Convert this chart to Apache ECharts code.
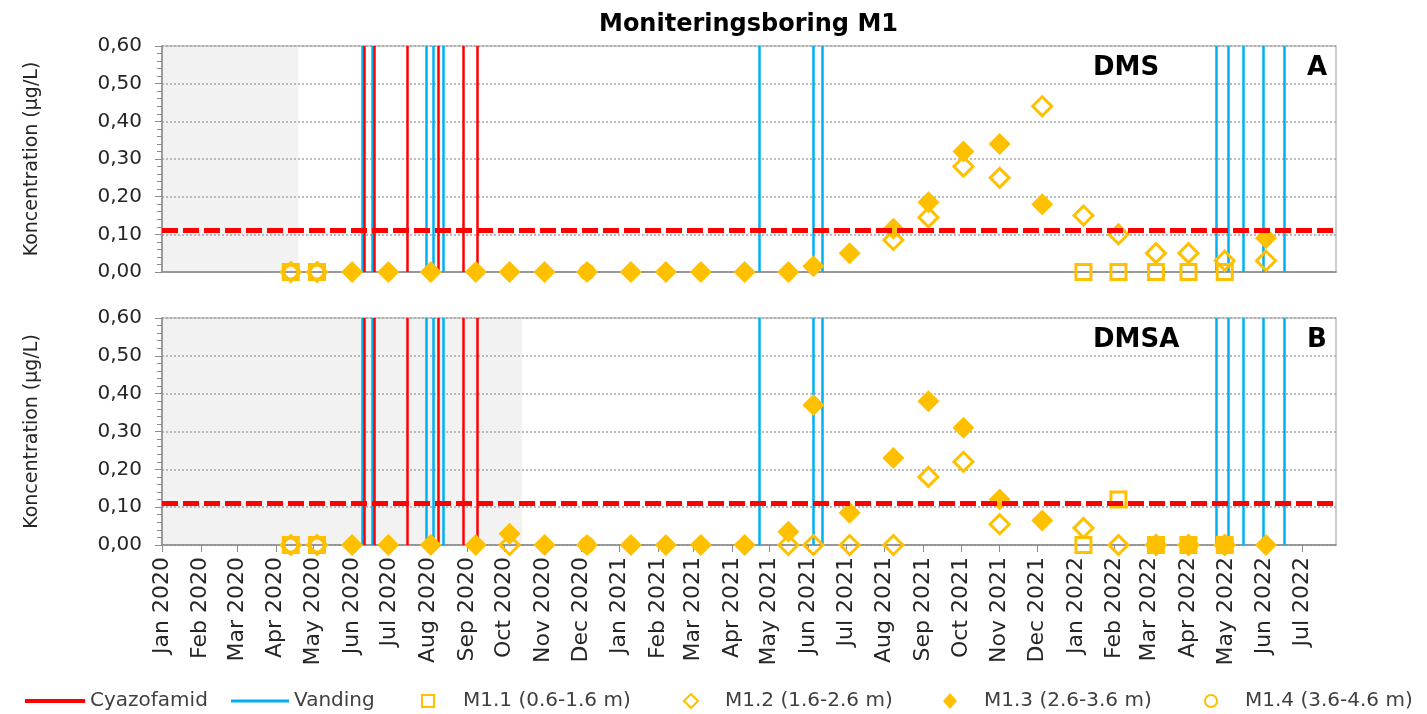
<!DOCTYPE html>
<html>
<head>
<meta charset="utf-8">
<title>Moniteringsboring M1</title>
<script src="https://cdn.jsdelivr.net/npm/echarts@6/dist/echarts.min.js"></script>
<style>
  html, body { margin: 0; padding: 0; background: #fff; }
  #chart { width: 1427px; height: 714px; }
</style>
</head>
<body>
<div id="chart"></div>
<script>
var n = null;

// prøvetagningsdatoer
var sampleDates = ['2020-04-13', '2020-05-04', '2020-06-01', '2020-06-30', '2020-08-03', '2020-09-08',
  '2020-10-05', '2020-11-02', '2020-12-06', '2021-01-10', '2021-02-07', '2021-03-07', '2021-04-11',
  '2021-05-16', '2021-06-05', '2021-07-04', '2021-08-08', '2021-09-05', '2021-10-03', '2021-11-01',
  '2021-12-05', '2022-01-07', '2022-02-04', '2022-03-06', '2022-04-01', '2022-04-30', '2022-06-02'];

// DMS (panel A)
var dmsM11 = [0, 0, n, n, n, n, n, n, n, n, n, n, n, n, n, n, n, n, n, n, n, 0, 0, 0, 0, 0, n];
var dmsM12 = [0, 0, n, n, n, n, n, n, n, n, n, n, n, n, n, n, 0.085, 0.145, 0.28, 0.25, 0.44, 0.15, 0.10, 0.05, 0.05, 0.03, 0.03];
var dmsM13 = [n, n, 0, 0, 0, 0, 0, 0, 0, 0, 0, 0, 0, 0, 0.015, 0.05, 0.115, 0.185, 0.32, 0.34, 0.18, n, n, n, n, n, 0.09];
var dmsM14 = [0, 0, n, n, n, n, n, n, 0, n, n, n, n, n, n, n, n, n, n, n, n, n, n, n, n, n, n];

// DMSA (panel B)
var dmsaM11 = [0, 0, n, n, n, n, n, n, n, n, n, n, n, n, n, n, n, n, n, n, n, 0, 0.12, 0, 0, 0, n];
var dmsaM12 = [0, 0, n, n, n, n, 0, n, n, n, n, n, n, 0, 0, 0, 0, 0.18, 0.22, 0.055, n, 0.045, 0, 0, 0, 0, n];
var dmsaM13 = [n, n, 0, 0, 0, 0, 0.03, 0, 0, 0, 0, 0, 0, 0.035, 0.37, 0.085, 0.23, 0.38, 0.31, 0.12, 0.065, n, n, 0, 0, 0, 0];
var dmsaM14 = [0, 0, n, n, n, n, n, n, 0, n, n, n, n, n, n, n, n, n, n, n, n, n, n, n, n, n, n];

// sprøjtninger og vandinger
var cyazofamidDates = ['2020-06-11', '2020-06-19', '2020-07-15', '2020-08-09', '2020-08-29', '2020-09-09'];
var vandingDates = ['2020-06-09', '2020-06-17', '2020-07-30', '2020-08-05', '2020-08-13',
  '2021-04-23', '2021-06-05', '2021-06-12',
  '2022-04-23', '2022-05-03', '2022-05-15', '2022-05-31', '2022-06-17'];

var graensevaerdi = 0.11;
var shadeDMS = ['2020-01-01', '2020-04-19'];
var shadeDMSA = ['2020-01-01', '2020-10-15'];

var axisStart = '2020-01-01';
var axisEnd = '2022-07-28';
var monthTicks = ['2020-01-01', '2020-02-01', '2020-03-01', '2020-04-01', '2020-05-01', '2020-06-01',
  '2020-07-01', '2020-08-01', '2020-09-01', '2020-10-01', '2020-11-01', '2020-12-01',
  '2021-01-01', '2021-02-01', '2021-03-01', '2021-04-01', '2021-05-01', '2021-06-01',
  '2021-07-01', '2021-08-01', '2021-09-01', '2021-10-01', '2021-11-01', '2021-12-01',
  '2022-01-01', '2022-02-01', '2022-03-01', '2022-04-01', '2022-05-01', '2022-06-01', '2022-07-01'];
var monthLabels = ['Jan 2020', 'Feb 2020', 'Mar 2020', 'Apr 2020', 'May 2020', 'Jun 2020',
  'Jul 2020', 'Aug 2020', 'Sep 2020', 'Oct 2020', 'Nov 2020', 'Dec 2020',
  'Jan 2021', 'Feb 2021', 'Mar 2021', 'Apr 2021', 'May 2021', 'Jun 2021',
  'Jul 2021', 'Aug 2021', 'Sep 2021', 'Oct 2021', 'Nov 2021', 'Dec 2021',
  'Jan 2022', 'Feb 2022', 'Mar 2022', 'Apr 2022', 'May 2022', 'Jun 2022', 'Jul 2022'];

var seriesNames = ['M1.1 (0.6-1.6 m)', 'M1.2 (1.6-2.6 m)', 'M1.3 (2.6-3.6 m)', 'M1.4 (3.6-4.6 m)'];

var gold = '#FFC000';
var red = '#FF0000';
var blue = '#00B0F0';
var txt = '#262626';

function ts(d) {
  var p = d.split('-');
  return Date.UTC(+p[0], +p[1] - 1, +p[2]);
}

var tickValues = monthTicks.map(ts);
var labelByTs = {};
tickValues.forEach(function (t, i) { labelByTs[t] = monthLabels[i]; });

function points(vals) {
  var out = [];
  sampleDates.forEach(function (d, i) {
    if (vals[i] !== null) out.push([ts(d), vals[i]]);
  });
  return out;
}

// markør-stil pr. dybde
var markers = [
  { symbol: 'rect', size: 15, fill: 'rgba(255,255,255,0)', border: 3 },
  { symbol: 'diamond', size: 19, fill: 'rgba(255,255,255,0)', border: 3 },
  { symbol: 'diamond', size: 22, fill: gold, border: 0 },
  { symbol: 'circle', size: 14, fill: 'rgba(255,255,255,0)', border: 3 }
];

function scatter(k, vals, gi) {
  var m = markers[k];
  return {
    name: seriesNames[k],
    type: 'scatter',
    xAxisIndex: gi,
    yAxisIndex: gi,
    symbol: m.symbol,
    symbolSize: m.size,
    z: 5 + k,
    itemStyle: { color: m.fill, borderColor: gold, borderWidth: m.border, opacity: 1 },
    emphasis: { disabled: true },
    data: points(vals)
  };
}

function vlines(name, dates, color, gi) {
  return {
    name: name,
    type: 'line',
    xAxisIndex: gi,
    yAxisIndex: gi,
    color: color,
    data: [],
    z: 3,
    markLine: {
      silent: true,
      z: 3,
      symbol: ['none', 'none'],
      label: { show: false },
      lineStyle: { color: color, width: 2.5, type: 'solid' },
      emphasis: { disabled: true },
      data: dates.map(function (d) { return { xAxis: ts(d) }; })
    }
  };
}

function threshold(gi) {
  return {
    name: 'grænse',
    type: 'line',
    xAxisIndex: gi,
    yAxisIndex: gi,
    data: [],
    z: 20,
    markLine: {
      silent: true,
      z: 20,
      symbol: ['none', 'none'],
      label: { show: false },
      lineStyle: { color: red, width: 5, type: [16, 5] },
      emphasis: { disabled: true },
      data: [{ yAxis: graensevaerdi }]
    }
  };
}

function shade(range, gi) {
  return {
    name: 'skygge',
    type: 'line',
    xAxisIndex: gi,
    yAxisIndex: gi,
    data: [],
    z: -1,
    markArea: {
      silent: true,
      z: -1,
      itemStyle: { color: '#F2F2F2' },
      emphasis: { disabled: true },
      data: [[{ xAxis: ts(range[0]) }, { xAxis: ts(range[1]) }]]
    }
  };
}

function yAxis(gi) {
  return {
    type: 'value',
    gridIndex: gi,
    min: 0,
    max: 0.6,
    interval: 0.1,
    name: 'Koncentration (µg/L)',
    nameLocation: 'middle',
    nameGap: 120,
    nameTextStyle: { fontSize: 19, color: txt },
    axisLine: { show: true, lineStyle: { color: '#8c8c8c', width: 1.5 } },
    axisTick: { show: true, length: 7, lineStyle: { color: '#8c8c8c' } },
    minorTick: { show: true, splitNumber: 5, length: 5, lineStyle: { color: '#8c8c8c' } },
    splitLine: { show: true, lineStyle: { color: '#a6a6a6', type: [2, 2], width: 1.5 } },
    axisLabel: {
      fontSize: 20,
      color: txt,
      margin: 20,
      formatter: function (v) { return v.toFixed(2).replace('.', ','); }
    }
  };
}

function xAxis(gi, withLabels) {
  return {
    type: 'value',
    gridIndex: gi,
    min: ts(axisStart),
    max: ts(axisEnd),
    axisLine: { show: true, lineStyle: { color: '#8c8c8c', width: 1.5 } },
    splitLine: { show: false },
    axisTick: {
      show: withLabels,
      customValues: tickValues,
      length: 7,
      lineStyle: { color: '#8c8c8c' }
    },
    axisLabel: {
      show: withLabels,
      customValues: tickValues,
      rotate: 90,
      fontSize: 22,
      color: txt,
      margin: 12,
      formatter: function (v) { return labelByTs[v] || ''; }
    }
  };
}

var legendBase = { selectedMode: false, top: 686, textStyle: { fontSize: 20, color: '#404040' } };

function legendItem(name, left, opt) {
  return Object.assign({}, legendBase, { data: [name], left: left }, opt);
}

var chart = echarts.init(document.getElementById('chart'));

var option = {
  animation: false,
  textStyle: { fontFamily: 'DejaVu Sans' },
  title: [
    { text: 'Moniteringsboring M1', left: 594, top: 8, textStyle: { fontSize: 24, fontWeight: 'bold', color: '#000' } },
    { text: 'DMS', left: 1088, top: 50, textStyle: { fontSize: 26, fontWeight: 'bold', color: '#000' } },
    { text: 'A', left: 1302, top: 50, textStyle: { fontSize: 26, fontWeight: 'bold', color: '#000' } },
    { text: 'DMSA', left: 1088, top: 322, textStyle: { fontSize: 26, fontWeight: 'bold', color: '#000' } },
    { text: 'B', left: 1302, top: 322, textStyle: { fontSize: 26, fontWeight: 'bold', color: '#000' } }
  ],
  legend: [
    legendItem('Cyazofamid', 20, { icon: 'rect', itemWidth: 60, itemHeight: 4 }),
    legendItem('Vanding', 226, { icon: 'rect', itemWidth: 58, itemHeight: 3 }),
    legendItem(seriesNames[0], 416, { itemWidth: 12, itemHeight: 12, textStyle: { fontSize: 20, color: '#404040', padding: [0, 0, 0, 24] } }),
    legendItem(seriesNames[1], 678, { itemWidth: 14, itemHeight: 14, textStyle: { fontSize: 20, color: '#404040', padding: [0, 0, 0, 22] } }),
    legendItem(seriesNames[2], 938, { itemWidth: 14, itemHeight: 16, textStyle: { fontSize: 20, color: '#404040', padding: [0, 0, 0, 22] } }),
    legendItem(seriesNames[3], 1199, { itemWidth: 12, itemHeight: 12, textStyle: { fontSize: 20, color: '#404040', padding: [0, 0, 0, 23] } })
  ],
  grid: [
    { left: 162, right: 91, top: 46, height: 226, show: true, borderColor: '#bfbfbf', borderWidth: 1.5 },
    { left: 162, right: 91, top: 318, height: 227, show: true, borderColor: '#bfbfbf', borderWidth: 1.5 }
  ],
  xAxis: [xAxis(0, false), xAxis(1, true)],
  yAxis: [yAxis(0), yAxis(1)],
  series: [
    shade(shadeDMS, 0),
    shade(shadeDMSA, 1),
    vlines('Vanding', vandingDates, blue, 0),
    vlines('Cyazofamid', cyazofamidDates, red, 0),
    vlines('Vanding', vandingDates, blue, 1),
    vlines('Cyazofamid', cyazofamidDates, red, 1),
    scatter(0, dmsM11, 0),
    scatter(1, dmsM12, 0),
    scatter(2, dmsM13, 0),
    scatter(3, dmsM14, 0),
    scatter(0, dmsaM11, 1),
    scatter(1, dmsaM12, 1),
    scatter(2, dmsaM13, 1),
    scatter(3, dmsaM14, 1),
    threshold(0),
    threshold(1)
  ]
};

chart.setOption(option);
</script>
</body>
</html>
